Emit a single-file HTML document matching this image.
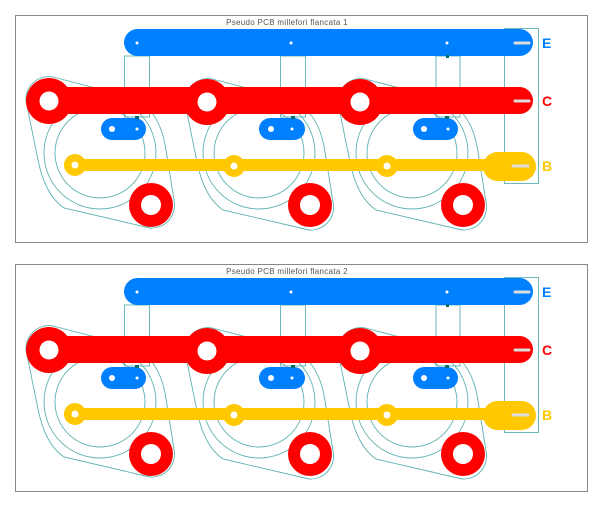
<!DOCTYPE html>
<html><head><meta charset="utf-8"><style>
html,body{margin:0;padding:0;background:#fff;}
svg{display:block;}
text{font-family:"Liberation Sans",sans-serif;}
</style></head><body>
<svg width="603" height="507" viewBox="0 0 603 507" xmlns="http://www.w3.org/2000/svg">
<g id="p1">
<rect x="15.5" y="15.5" width="572" height="227" fill="#fff" stroke="#888" stroke-width="1"/>
<g fill="none" stroke="#5fb3b3" stroke-width="0.9">
<circle cx="100" cy="153" r="45"/><circle cx="100" cy="153" r="56"/>
<circle cx="259" cy="153" r="45"/><circle cx="259" cy="153" r="56"/>
<circle cx="412" cy="153" r="45"/><circle cx="412" cy="153" r="56"/>
<path d="M26,101 A23,23 0 0 1 57,78 L130,97 Q160,108 166,150 L174,200 A23,23 0 0 1 150,228 L64,208 Q45,195 38,160 Z"/>
<path d="M185,103 A23,23 0 0 1 216,80 L289,99 Q319,110 325,152 L333,202 A23,23 0 0 1 309,230 L223,210 Q204,197 197,162 Z"/>
<path d="M338,103 A23,23 0 0 1 369,80 L442,99 Q472,110 478,152 L486,202 A23,23 0 0 1 462,230 L376,210 Q357,197 350,162 Z"/>
<rect x="124.5" y="56" width="25" height="61"/>
<rect x="280.5" y="56" width="25" height="61"/>
<rect x="436" y="56" width="24" height="61"/>
<rect x="504.5" y="28.5" width="34" height="155"/>
</g>
<rect x="124" y="29" width="409" height="27" rx="13.5" fill="#0080ff"/>
<rect x="40" y="87" width="493" height="27" rx="13.5" fill="#ff0000"/>
<g fill="#ff0000">
<circle cx="49" cy="101" r="23"/><circle cx="207" cy="102" r="23"/><circle cx="360" cy="102" r="23"/>
<circle cx="151" cy="205" r="22"/><circle cx="310" cy="205" r="22"/><circle cx="463" cy="205" r="22"/>
</g>
<g fill="#fff">
<circle cx="49" cy="101" r="9.5"/><circle cx="207" cy="102" r="9.5"/><circle cx="360" cy="102" r="9.5"/>
<circle cx="151" cy="205" r="10"/><circle cx="310" cy="205" r="10"/><circle cx="463" cy="205" r="10"/>
</g>
<g fill="#0080ff">
<rect x="101" y="118" width="45" height="22" rx="11"/>
<rect x="259" y="118" width="46" height="22" rx="11"/>
<rect x="413" y="118" width="45" height="22" rx="11"/>
</g>
<g fill="#006b6b"><rect x="135" y="116" width="4" height="3"/><rect x="291" y="116" width="4" height="3"/><rect x="445" y="116" width="4" height="3"/><rect x="446" y="55" width="3" height="3"/></g>
<g fill="#fff">
<circle cx="112" cy="129" r="3"/><circle cx="137" cy="129" r="1.5"/>
<circle cx="271" cy="129" r="3"/><circle cx="292" cy="129" r="1.5"/>
<circle cx="424" cy="129" r="3"/><circle cx="448" cy="129" r="1.5"/>
<circle cx="137" cy="43" r="1.5"/><circle cx="291" cy="43" r="1.5"/><circle cx="447" cy="43" r="1.5"/>
</g>
<rect x="70" y="159" width="430" height="12" fill="#ffc800"/>
<rect x="483" y="152" width="53" height="29" rx="14.5" fill="#ffc800"/>
<g fill="#ffc800"><circle cx="75" cy="165" r="11"/><circle cx="234" cy="166" r="11"/><circle cx="387" cy="166" r="11"/></g>
<g fill="#fff"><circle cx="75" cy="165" r="3.5"/><circle cx="234" cy="166" r="3.5"/><circle cx="387" cy="166" r="3.5"/></g>
<g stroke="#ddd" stroke-width="3" stroke-linecap="round">
<line x1="515" y1="43" x2="529" y2="43"/><line x1="515" y1="101" x2="529" y2="101"/><line x1="513" y1="166" x2="528" y2="166"/>
</g>
</g>
<text x="287" y="25" font-size="8" fill="#555" text-anchor="middle" letter-spacing="0.3">Pseudo PCB millefori flancata 1</text>
<text x="542" y="48" font-size="14" font-weight="bold" fill="#0080ff">E</text>
<text x="542" y="106" font-size="14" font-weight="bold" fill="#ff0000">C</text>
<text x="542" y="171" font-size="14" font-weight="bold" fill="#ffc800">B</text>
<use href="#p1" transform="translate(0,249)"/>
<text x="287" y="274" font-size="8" fill="#555" text-anchor="middle" letter-spacing="0.3">Pseudo PCB millefori flancata 2</text>
<text x="542" y="297" font-size="14" font-weight="bold" fill="#0080ff">E</text>
<text x="542" y="355" font-size="14" font-weight="bold" fill="#ff0000">C</text>
<text x="542" y="420" font-size="14" font-weight="bold" fill="#ffc800">B</text>
</svg>
</body></html>
